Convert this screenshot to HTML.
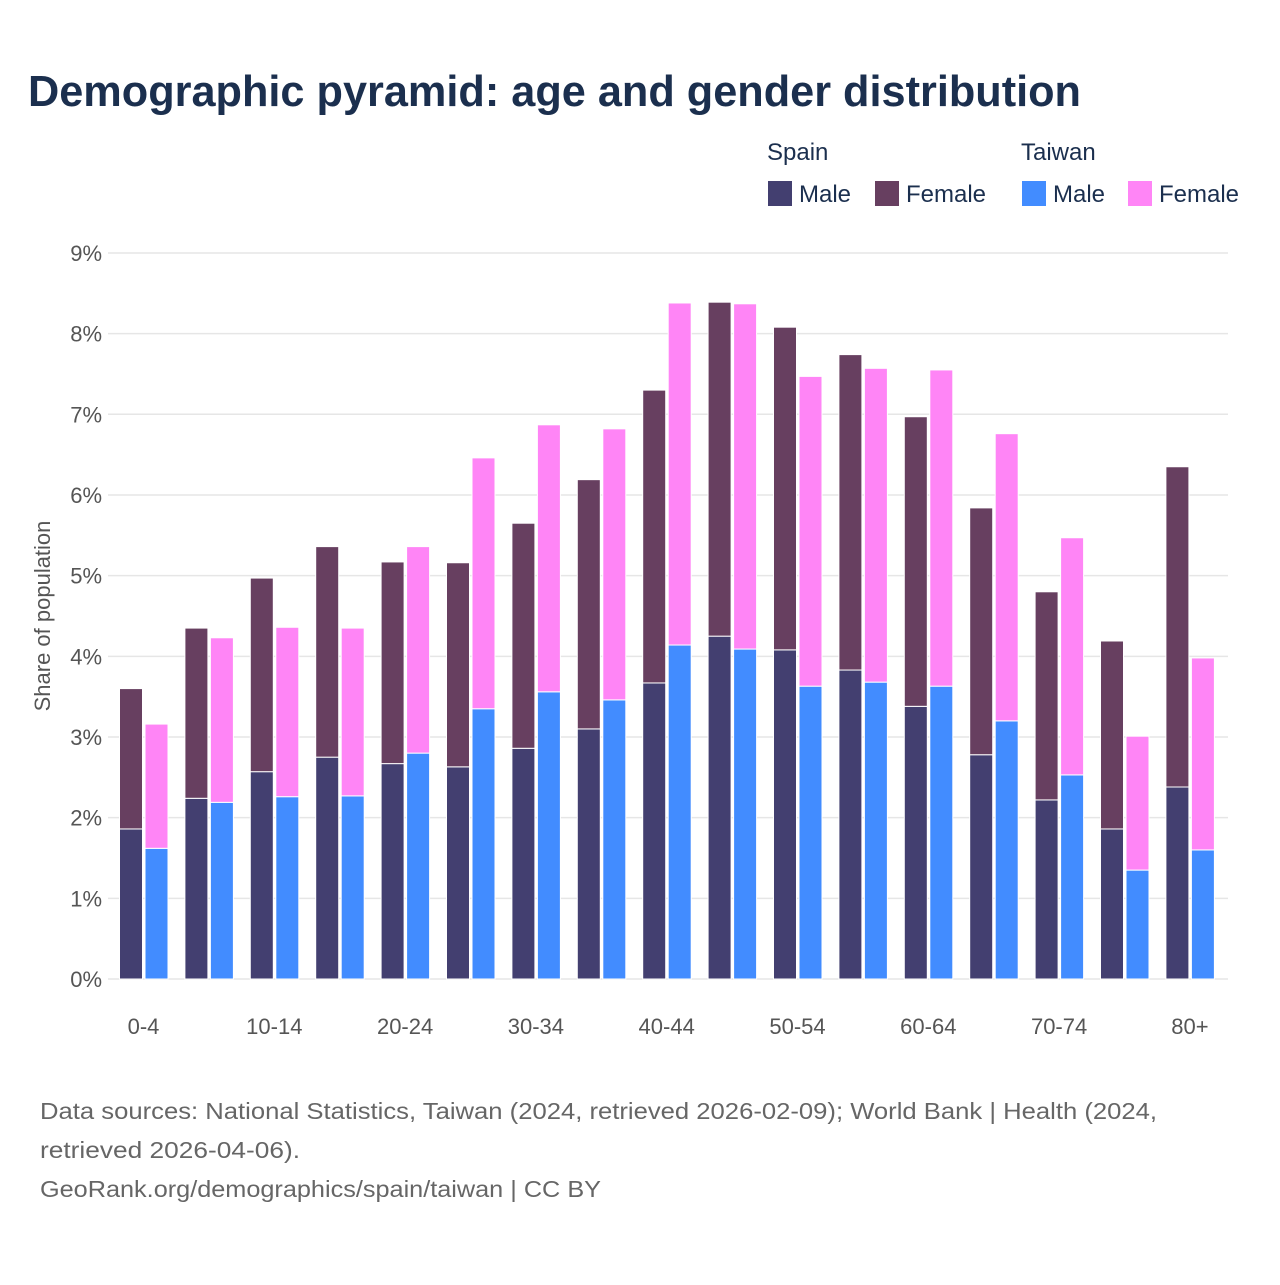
<!DOCTYPE html>
<html><head><meta charset="utf-8"><style>
html,body{margin:0;padding:0;background:#fff;}
body{width:1280px;height:1280px;overflow:hidden;font-family:"Liberation Sans",sans-serif;}
</style></head><body>
<svg id="chart" width="1280" height="1280" xmlns="http://www.w3.org/2000/svg" font-family="Liberation Sans, sans-serif">
<text x="28" y="106" font-size="44" font-weight="bold" fill="#1b2f4e" textLength="1053" lengthAdjust="spacingAndGlyphs">Demographic pyramid: age and gender distribution</text>
<g font-size="24" fill="#1b2f4e">
<text x="767" y="160">Spain</text>
<text x="1021" y="160">Taiwan</text>
<g><rect x="768" y="181" width="24" height="25" fill="#433f70"/><text x="799" y="202">Male</text></g>
<g><rect x="875" y="181" width="24" height="25" fill="#673f60"/><text x="906" y="202">Female</text></g>
<g><rect x="1022" y="181" width="24" height="25" fill="#428cff"/><text x="1053" y="202">Male</text></g>
<g><rect x="1128" y="181" width="24" height="25" fill="#ff85f6"/><text x="1159" y="202">Female</text></g>
</g>
<g id="grid"></g><g id="bars"></g><g id="xlabels"></g>
<text transform="translate(50,616) rotate(-90)" text-anchor="middle" font-size="22" fill="#555">Share of population</text>
<g font-size="23" fill="#666">
<text x="40" y="1119" textLength="1117" lengthAdjust="spacingAndGlyphs">Data sources: National Statistics, Taiwan (2024, retrieved 2026-02-09); World Bank | Health (2024,</text>
<text x="40" y="1158" textLength="260" lengthAdjust="spacingAndGlyphs">retrieved 2026-04-06).</text>
<text x="40" y="1197" textLength="561" lengthAdjust="spacingAndGlyphs">GeoRank.org/demographics/spain/taiwan | CC BY</text>
</g>
</svg>
<script>
const categories=["0-4","5-9","10-14","15-19","20-24","25-29","30-34","35-39","40-44","45-49","50-54","55-59","60-64","65-69","70-74","75-79","80+"];
const spainMale=[1.86,2.24,2.57,2.75,2.67,2.63,2.86,3.10,3.67,4.25,4.08,3.83,3.38,2.78,2.22,1.86,2.38];
const spainTotal=[3.60,4.35,4.97,5.36,5.17,5.16,5.65,6.19,7.30,8.39,8.08,7.74,6.97,5.84,4.80,4.19,6.35];
const taiwanMale=[1.62,2.19,2.26,2.27,2.80,3.35,3.56,3.46,4.14,4.09,3.63,3.68,3.63,3.20,2.53,1.35,1.60];
const taiwanTotal=[3.16,4.23,4.36,4.35,5.36,6.46,6.87,6.82,8.38,8.37,7.47,7.57,7.55,6.76,5.47,3.01,3.98];
const yTicks=[0,1,2,3,4,5,6,7,8,9];
const tickLabels=yTicks.map(v=>v+"%");
const NS="http://www.w3.org/2000/svg";
const y=v=>979-v*80.67;
const xc=i=>143.5+i*65.4;
function mk(tag,attrs,parent){const e=document.createElementNS(NS,tag);for(const k in attrs)e.setAttribute(k,attrs[k]);parent.appendChild(e);return e;}
const grid=document.getElementById('grid');
yTicks.forEach((v,i)=>{
 const l=mk('line',{x1:108,x2:1228,y1:y(v),y2:y(v),stroke:'#e6e6e6','stroke-width':1.5},grid);
 
 
 const t=mk('text',{x:102,y:y(v)+8,'text-anchor':'end','font-size':22,fill:'#555'},grid);
 
 
 t.textContent=tickLabels[i];
});
const bars=document.getElementById('bars');
function bar(x,lo,hi,fill,name){
 const r=mk('rect',{x:x,y:y(hi),width:23,height:y(lo)-y(hi),fill:fill,stroke:'#fff','stroke-width':1},bars);
 
 
}
categories.forEach((c,i)=>{
 const cx=xc(i);
 bar(cx-24,0,spainMale[i],'#433f70','bar-spain-male');
 bar(cx-24,spainMale[i],spainTotal[i],'#673f60','bar-spain-female');
 bar(cx+1.5,0,taiwanMale[i],'#428cff','bar-taiwan-male');
 bar(cx+1.5,taiwanMale[i],taiwanTotal[i],'#ff85f6','bar-taiwan-female');
 if(i%2===0){
  const t=mk('text',{x:cx,y:1034,'text-anchor':'middle','font-size':22,fill:'#555'},document.getElementById('xlabels'));
  
  
  t.textContent=c;
 }
});
</script>
</body></html>
